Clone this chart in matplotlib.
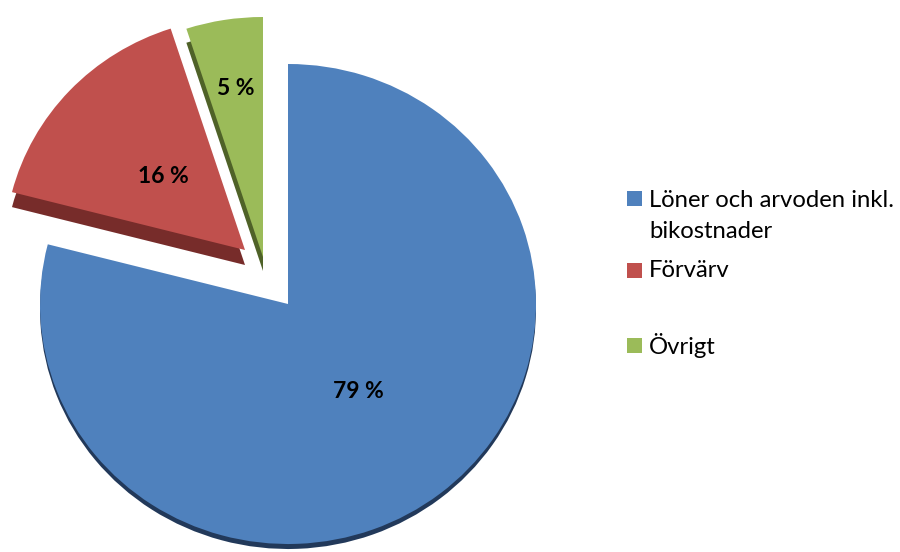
import matplotlib
matplotlib.use('Agg')
import matplotlib.pyplot as plt
from matplotlib.patches import Rectangle
import numpy as np

# ---- data ----
categories = ["Löner och arvoden inkl.\nbikostnader", "Förvärv", "Övrigt"]
values = [79, 16, 5]
colors = ['#4F81BD', '#C0504D', '#9BBB59']
side_colors = ['#22395A', '#772C2A', '#4F6228']

# ---- layout (pixels) ----
W, H = 900, 552
R = 248                 # horizontal radius in px
s = 240 / 248           # vertical squash
center_px = (288, 304)
offsets_px = [(0, 0), (-43, 54), (-25, 47)]    # explode offsets (dx, dy up)
depth_px = [5, 15, 14]
radius_scale = [1.0, 0.97, 1.0]
pctdist = [0.46, 0.45, 0.71]

plt.rcParams['font.family'] = ['Lato', 'DejaVu Sans']

fig = plt.figure(figsize=(9, 5.52), dpi=100)
ax = fig.add_axes([0, 0, 1, 1])


def px(x, p):
    return x, (H - p) / s


cx, cy = px(*center_px)

side_w, _ = ax.pie(values, colors=side_colors, startangle=90, counterclock=False,
                   radius=R, center=(cx, cy), wedgeprops=dict(linewidth=0))
top_w, _ = ax.pie(values, colors=colors, startangle=90, counterclock=False,
                  radius=R, center=(cx, cy), wedgeprops=dict(linewidth=0))

for i, (sw, tw) in enumerate(zip(side_w, top_w)):
    ox, oy = offsets_px[i]
    tw.set_center((cx + ox, cy + oy / s))
    sw.set_center((cx + ox, cy + (oy - depth_px[i]) / s))
    tw.set_radius(R * radius_scale[i])
    sw.set_radius(R * radius_scale[i])
    mid = np.deg2rad((tw.theta1 + tw.theta2) / 2)
    tx = cx + ox + pctdist[i] * R * np.cos(mid)
    ty = cy + oy / s + pctdist[i] * R * np.sin(mid)
    ax.text(tx, ty, f"{values[i]} %", ha='center', va='center',
            fontsize=16.5, fontweight='bold', color='#000000')

# ---- manual legend ----
leg_rows = [216, 271, 345]
for i, lab in enumerate(categories):
    first_line_center = 199 if i == 0 else leg_rows[i]
    sx, sy = px(627, first_line_center + 7.5)
    ax.add_patch(Rectangle((sx, sy), 15, 15 / s, facecolor=colors[i], edgecolor='none'))
    ax.text(*px(649, leg_rows[i]), lab, ha='left', va='center', fontsize=17.2,
            color='#000000', linespacing=1.6)

ax.set_xlim(0, W)
ax.set_ylim(0, H / s)
ax.set_aspect('auto')
ax.axis('off')

fig.savefig('out.png', dpi=100)
